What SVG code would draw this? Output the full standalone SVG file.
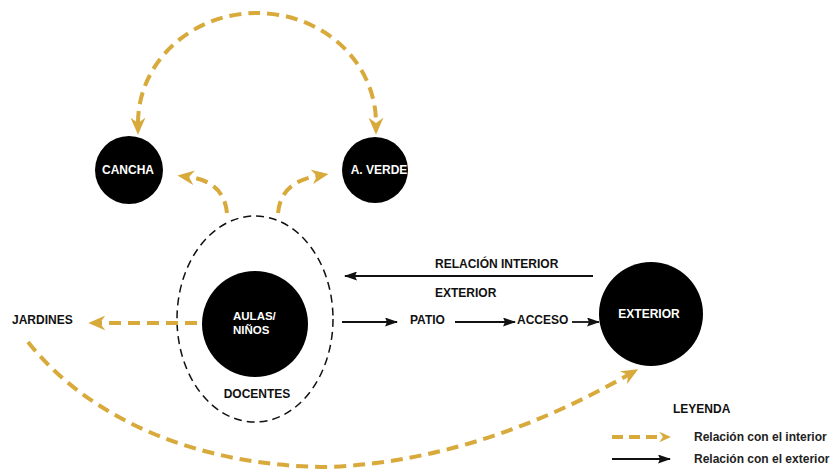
<svg xmlns="http://www.w3.org/2000/svg" width="833" height="472" viewBox="0 0 833 472">
  <defs>
    <marker id="goldHead" markerUnits="userSpaceOnUse" viewBox="0 0 16 14" refX="5" refY="7" markerWidth="17" markerHeight="15" orient="auto-start-reverse">
      <path d="M0,0 L16,7 L0,14 L5,7 Z" fill="#D8A93B"/>
    </marker>
    <marker id="goldHeadSmall" markerUnits="userSpaceOnUse" viewBox="0 0 16 14" refX="5" refY="7" markerWidth="12" markerHeight="10.5" orient="auto">
      <path d="M0,0 L16,7 L0,14 L5,7 Z" fill="#D8A93B"/>
    </marker>
    <marker id="blackHead" markerUnits="userSpaceOnUse" viewBox="0 0 13 9" refX="12" refY="4.5" markerWidth="13" markerHeight="9" orient="auto">
      <path d="M0,0 L13,4.5 L0,9 L2,4.5 Z" fill="#111"/>
    </marker>
  </defs>
  <style>
    .node { fill: #000; }
    .inlabel { fill: #fff; font-family: "Liberation Sans", Arial, sans-serif; font-weight: bold; font-size: 12px; }
    .label { fill: #111; font-family: "Liberation Sans", Arial, sans-serif; font-weight: bold; font-size: 12px; }
    .legend { fill: #222; font-family: "Liberation Sans", Arial, sans-serif; font-weight: bold; font-size: 12px; }
    .inner { fill: none; stroke: #D8A93B; stroke-width: 4; stroke-dasharray: 12 7; }
    .outer { fill: none; stroke: #111; stroke-width: 1.8; }
    .zone { fill: none; stroke: #111; stroke-width: 1.5; stroke-dasharray: 8 5; }
  </style>

  <rect width="833" height="472" fill="#fff"/>

  <!-- staff zone around the classrooms -->
  <g id="docentes">
    <ellipse class="zone" cx="255" cy="319" rx="78" ry="103"/>
    <text class="label" x="257" y="398" text-anchor="middle">DOCENTES</text>
  </g>

  <g id="cancha">
    <circle class="node" cx="129" cy="170" r="34"/>
    <text class="inlabel" x="128" y="174" text-anchor="middle">CANCHA</text>
  </g>

  <g id="averde">
    <circle class="node" cx="375" cy="170" r="33"/>
    <text class="inlabel" x="379" y="174" text-anchor="middle">A. VERDE</text>
  </g>

  <g id="aulas">
    <circle class="node" cx="255" cy="324" r="53"/>
    <text class="inlabel" x="233" y="320" style="font-size:11.5px">AULAS/</text>
    <text class="inlabel" x="233" y="334" style="font-size:11.5px">NIÑOS</text>
  </g>

  <g id="exterior">
    <circle class="node" cx="651" cy="314" r="52"/>
    <text class="inlabel" x="649" y="318" text-anchor="middle">EXTERIOR</text>
  </g>

  <g id="jardines">
    <text class="label" x="12" y="324">JARDINES</text>
  </g>

  <g id="patio">
    <text class="label" x="410" y="324">PATIO</text>
  </g>

  <g id="acceso">
    <text class="label" x="517" y="324">ACCESO</text>
  </g>

  <!-- connectors -->
  <g id="connectors">
    <!-- interior relations (gold, dashed) -->
    <path class="inner" d="M138,123 A119,110 0 0 1 376,123" marker-start="url(#goldHead)" marker-end="url(#goldHead)"/>
    <path class="inner" d="M227,213 C225,192 212,180 189,177" marker-end="url(#goldHead)"/>
    <path class="inner" d="M278,213 C280,192 293,180 317,176" marker-end="url(#goldHead)"/>
    <path class="inner" d="M197,323 L100,323" marker-end="url(#goldHead)"/>
    <path class="inner" d="M28,342 C90,420 200,467 330,467 C440,462 540,425 628,375" marker-end="url(#goldHead)"/>

    <!-- exterior relations (black, solid) -->
    <path class="outer" d="M593,276 L345,276" marker-end="url(#blackHead)"/>
    <path class="outer" d="M342,322 L397,322" marker-end="url(#blackHead)"/>
    <path class="outer" d="M455,322 L515,322" marker-end="url(#blackHead)"/>
    <path class="outer" d="M572,322 L599,322" marker-end="url(#blackHead)"/>
    <text class="label" x="435" y="268">RELACIÓN INTERIOR</text>
    <text class="label" x="435" y="297">EXTERIOR</text>
  </g>

  <!-- key -->
  <g id="leyenda">
    <text class="label" x="673" y="413">LEYENDA</text>
    <path d="M612,437 L663,437" fill="none" stroke="#D8A93B" stroke-width="4" stroke-dasharray="11 6" marker-end="url(#goldHeadSmall)"/>
    <text class="legend" x="694" y="441">Relación con el interior</text>
    <path class="outer" d="M612,459 L670,459" marker-end="url(#blackHead)"/>
    <text class="legend" x="694" y="463">Relación con el exterior</text>
  </g>
</svg>
